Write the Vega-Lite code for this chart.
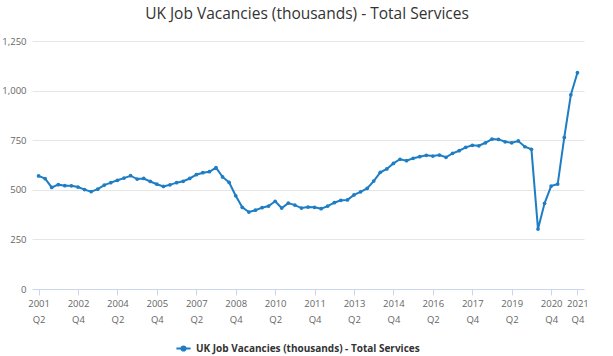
{
  "$schema": "https://vega.github.io/schema/vega-lite/v6.json",
  "autosize": "none",
  "width": 552,
  "height": 248,
  "padding": {"left": 32, "top": 41, "right": 29, "bottom": 67},
  "background": "white",
  "title": {
    "text": "UK Job Vacancies (thousands) - Total Services",
    "fontSize": 15.5,
    "font": "Open Sans",
    "fontWeight": "normal",
    "color": "#333333",
    "anchor": "middle",
    "dx": -1,
    "offset": 14
  },
  "config": {
    "view": {"stroke": null},
    "font": "Open Sans"
  },
  "data": {
    "values": [
      {"q": "2001 Q2", "v": 570}, {"q": "2001 Q3", "v": 556}, {"q": "2001 Q4", "v": 512},
      {"q": "2002 Q1", "v": 526}, {"q": "2002 Q2", "v": 521}, {"q": "2002 Q3", "v": 520}, {"q": "2002 Q4", "v": 514},
      {"q": "2003 Q1", "v": 501}, {"q": "2003 Q2", "v": 491}, {"q": "2003 Q3", "v": 503}, {"q": "2003 Q4", "v": 524},
      {"q": "2004 Q1", "v": 536}, {"q": "2004 Q2", "v": 548}, {"q": "2004 Q3", "v": 559}, {"q": "2004 Q4", "v": 571},
      {"q": "2005 Q1", "v": 554}, {"q": "2005 Q2", "v": 557}, {"q": "2005 Q3", "v": 542}, {"q": "2005 Q4", "v": 528},
      {"q": "2006 Q1", "v": 517}, {"q": "2006 Q2", "v": 525}, {"q": "2006 Q3", "v": 536}, {"q": "2006 Q4", "v": 543},
      {"q": "2007 Q1", "v": 557}, {"q": "2007 Q2", "v": 576}, {"q": "2007 Q3", "v": 586}, {"q": "2007 Q4", "v": 591},
      {"q": "2008 Q1", "v": 612}, {"q": "2008 Q2", "v": 565}, {"q": "2008 Q3", "v": 537}, {"q": "2008 Q4", "v": 470},
      {"q": "2009 Q1", "v": 412}, {"q": "2009 Q2", "v": 388}, {"q": "2009 Q3", "v": 397}, {"q": "2009 Q4", "v": 410},
      {"q": "2010 Q1", "v": 418}, {"q": "2010 Q2", "v": 442}, {"q": "2010 Q3", "v": 408}, {"q": "2010 Q4", "v": 433},
      {"q": "2011 Q1", "v": 423}, {"q": "2011 Q2", "v": 408}, {"q": "2011 Q3", "v": 413}, {"q": "2011 Q4", "v": 412},
      {"q": "2012 Q1", "v": 405}, {"q": "2012 Q2", "v": 418}, {"q": "2012 Q3", "v": 435}, {"q": "2012 Q4", "v": 447},
      {"q": "2013 Q1", "v": 449}, {"q": "2013 Q2", "v": 474}, {"q": "2013 Q3", "v": 490}, {"q": "2013 Q4", "v": 507},
      {"q": "2014 Q1", "v": 544}, {"q": "2014 Q2", "v": 588}, {"q": "2014 Q3", "v": 605}, {"q": "2014 Q4", "v": 633},
      {"q": "2015 Q1", "v": 654}, {"q": "2015 Q2", "v": 647}, {"q": "2015 Q3", "v": 659}, {"q": "2015 Q4", "v": 667},
      {"q": "2016 Q1", "v": 674}, {"q": "2016 Q2", "v": 670}, {"q": "2016 Q3", "v": 675}, {"q": "2016 Q4", "v": 664},
      {"q": "2017 Q1", "v": 684}, {"q": "2017 Q2", "v": 697}, {"q": "2017 Q3", "v": 714}, {"q": "2017 Q4", "v": 724},
      {"q": "2018 Q1", "v": 722}, {"q": "2018 Q2", "v": 737}, {"q": "2018 Q3", "v": 756}, {"q": "2018 Q4", "v": 754},
      {"q": "2019 Q1", "v": 742}, {"q": "2019 Q2", "v": 737}, {"q": "2019 Q3", "v": 746}, {"q": "2019 Q4", "v": 717},
      {"q": "2020 Q1", "v": 704}, {"q": "2020 Q2", "v": 302}, {"q": "2020 Q3", "v": 432}, {"q": "2020 Q4", "v": 519},
      {"q": "2021 Q1", "v": 529}, {"q": "2021 Q2", "v": 764}, {"q": "2021 Q3", "v": 979}, {"q": "2021 Q4", "v": 1090}
    ]
  },
  "mark": {
    "type": "line",
    "strokeWidth": 2,
    "point": {"filled": true, "size": 14}
  },
  "encoding": {
    "x": {
      "field": "q",
      "type": "ordinal",
      "sort": null,
      "scale": {"type": "point", "padding": 1},
      "axis": {
        "title": null,
        "values": ["2001 Q2", "2002 Q4", "2004 Q2", "2005 Q4", "2007 Q2", "2008 Q4", "2010 Q2", "2011 Q4", "2013 Q2", "2014 Q4", "2016 Q2", "2017 Q4", "2019 Q2", "2020 Q4", "2021 Q4"],
        "labelExpr": "split(datum.label, ' ')",
        "labelAngle": 0,
        "labelLineHeight": 16,
        "labelFontSize": 9.5,
        "labelColor": "#666666",
        "labelPadding": 3,
        "tickSize": 6,
        "tickColor": "#ccd6eb",
        "domainColor": "#ccd6eb",
        "grid": false
      }
    },
    "y": {
      "field": "v",
      "type": "quantitative",
      "scale": {"domain": [0, 1250], "nice": false},
      "axis": {
        "title": null,
        "values": [0, 250, 500, 750, 1000, 1250],
        "labelExpr": "format(datum.value, ',.0f')",
        "labelFontSize": 9.5,
        "labelColor": "#666666",
        "labelPadding": 6,
        "domain": false,
        "ticks": false,
        "gridColor": "#e6e6e6"
      }
    },
    "color": {
      "datum": "UK Job Vacancies (thousands) - Total Services",
      "type": "nominal",
      "scale": {"range": ["#1f7dc4"]},
      "legend": {
        "title": null,
        "orient": "none",
        "legendX": 143,
        "legendY": 299,
        "labelFontSize": 10,
        "labelFontWeight": "bold",
        "labelColor": "#333333",
        "symbolType": "M-1,0H1M-0.3,0A0.3,0.3 0 1,0 0.3,0A0.3,0.3 0 1,0 -0.3,0",
        "symbolSize": 200,
        "symbolStrokeWidth": 2,
        "symbolFillColor": "#1f7dc4",
        "labelLimit": 400
      }
    }
  }
}
